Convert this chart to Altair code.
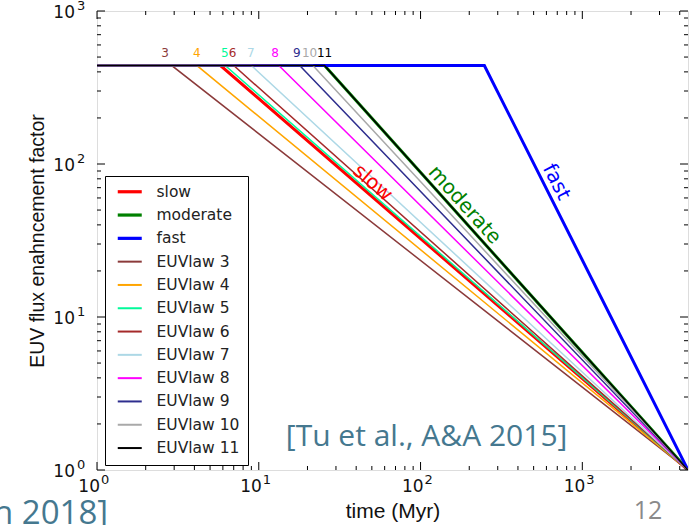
import altair as alt
import pandas as pd

# ---- data ----
series_names = ["slow", "moderate", "fast", "EUVlaw 3", "EUVlaw 4", "EUVlaw 5", "EUVlaw 6",
                "EUVlaw 7", "EUVlaw 8", "EUVlaw 9", "EUVlaw 10", "EUVlaw 11"]
series_colors = ["#ff0000", "#008000", "#0000ff", "#8b3a3a", "#ffa500", "#00fa9a", "#a52a2a",
                 "#add8e6", "#ff00ff", "#2e2e8e", "#a9a9a9", "#000000"]
break_times = [5.8, 25.5, 248, 2.9, 4.15, 6.2, 7.0, 9.0, 13.3, 17.9, 21.6, 25.5]  # Myr
saturation_level = 440
t_start = 1
t_end = 4500
end_level = 1

law_labels = ["3", "4", "5", "6", "7", "8", "9", "10", "11"]
law_label_times = [2.63, 4.14, 6.17, 6.88, 8.93, 12.6, 17.2, 20.6, 25.5]
law_label_level = 530

anno_text = ["slow", "moderate", "fast"]
anno_x = [50.6, 187, 692]
anno_y = [75.2, 54, 76.3]
anno_angle = [41, 48, 63]
anno_color = ["#ff0000", "#008000", "#0000ff"]

major_ticks = [1, 10, 100, 1000]
major_exps = ["0", "1", "2", "3"]
minor_mult = [2, 3, 4, 5, 6, 7, 8, 9]

W, H = 591, 459

# ---- tables ----
rows = []
for name, tb in zip(series_names, break_times):
    rows += [
        {"series": name, "t": t_start, "f": saturation_level, "i": 0},
        {"series": name, "t": tb, "f": saturation_level, "i": 1},
        {"series": name, "t": t_end, "f": end_level, "i": 2},
    ]
lines_df = pd.DataFrame(rows)
main_df = lines_df[lines_df.series.isin(series_names[:3])]
law_df = lines_df[~lines_df.series.isin(series_names[:3])]

lab_df = pd.DataFrame({"lab": law_labels, "t": law_label_times, "f": law_label_level,
                       "c": series_colors[3:]})
anno_df = pd.DataFrame({"txt": anno_text, "t": anno_x, "f": anno_y, "a": anno_angle, "c": anno_color})

tick_lab_df = pd.DataFrame({"v": major_ticks, "base": ["10"] * 4, "e": major_exps})
xt_major = pd.DataFrame({"v": major_ticks})
xt_minor = pd.DataFrame({"v": [m * d for d in major_ticks for m in minor_mult if m * d <= t_end]})
yt_major = pd.DataFrame({"v": major_ticks})
yt_minor = pd.DataFrame({"v": [m * d for d in major_ticks[:3] for m in minor_mult]})

xscale = alt.Scale(type="log", domain=[t_start, t_end])
yscale = alt.Scale(type="log", domain=[1, 1000])
color_scale = alt.Scale(domain=series_names, range=series_colors)

x_axis = alt.Axis(values=major_ticks, labels=False, title="time (Myr)", grid=False,
                  domain=False, ticks=False, titleFontSize=21, titleFontWeight="normal",
                  titlePadding=30, titleColor="#111")
y_axis = alt.Axis(values=major_ticks, labels=False, title="EUV flux enahncement factor",
                  grid=False, domain=False, ticks=False, titleFontSize=19.5,
                  titleFontWeight="normal", titlePadding=50, titleColor="#111")

legend = alt.Legend(title=None, orient="none", legendX=8, legendY=165, symbolType="stroke",
                    symbolSize=576, labelFontSize=15.5, labelColor="#222", rowPadding=6.3,
                    labelOffset=19, padding=8, symbolOffset=9, strokeColor="#000",
                    fillColor="#fff", labelFont="DejaVu Sans", values=series_names,
                    symbolStrokeWidth=alt.ExprRef(
                        "indexof(['slow','moderate','fast'], datum.value) >= 0 ? 3.2 : 2"))

enc_common = dict(
    x=alt.X("t:Q", scale=xscale, axis=x_axis),
    y=alt.Y("f:Q", scale=yscale, axis=y_axis),
    color=alt.Color("series:N", scale=color_scale, legend=legend),
    order="i:Q",
)

main_lines = alt.Chart(main_df).mark_line(clip=True, strokeWidth=3).encode(**enc_common)
law_lines = alt.Chart(law_df).mark_line(clip=True, strokeWidth=1.5).encode(**enc_common)

labels = alt.Chart(lab_df).mark_text(fontSize=12, font="DejaVu Sans").encode(
    x=alt.X("t:Q", scale=xscale), y=alt.Y("f:Q", scale=yscale),
    text="lab:N", color=alt.Color("c:N", scale=None))

annos = alt.Chart(anno_df).mark_text(fontSize=20, font="DejaVu Sans").encode(
    x=alt.X("t:Q", scale=xscale), y=alt.Y("f:Q", scale=yscale),
    text="txt:N", angle=alt.Angle("a:Q", scale=None), color=alt.Color("c:N", scale=None))

# tick labels in matplotlib style: "10" with raised exponent
xl_base = alt.Chart(tick_lab_df).mark_text(fontSize=17, font="DejaVu Sans", color="#111",
                                           align="right", baseline="alphabetic", dx=3).encode(
    x=alt.X("v:Q", scale=xscale), y=alt.value(H + 22), text="base:N")
xl_exp = alt.Chart(tick_lab_df).mark_text(fontSize=13, font="DejaVu Sans", color="#111",
                                          align="left", baseline="alphabetic", dx=4).encode(
    x=alt.X("v:Q", scale=xscale), y=alt.value(H + 14), text="e:N")
yl_base = alt.Chart(tick_lab_df).mark_text(fontSize=17, font="DejaVu Sans", color="#111",
                                           align="right", baseline="alphabetic", dy=7).encode(
    y=alt.Y("v:Q", scale=yscale), x=alt.value(-22), text="base:N")
yl_exp = alt.Chart(tick_lab_df).mark_text(fontSize=13, font="DejaVu Sans", color="#111",
                                          align="left", baseline="alphabetic", dy=-1).encode(
    y=alt.Y("v:Q", scale=yscale), x=alt.value(-20), text="e:N")


def xticks(df, size, top):
    y0 = 0 if top else H
    y1 = size if top else H - size
    return alt.Chart(df).mark_rule(color="#000", strokeWidth=1).encode(
        x=alt.X("v:Q", scale=xscale), y=alt.value(y0), y2=alt.value(y1))


def yticks(df, size, right):
    x0 = W if right else 0
    x1 = W - size if right else size
    return alt.Chart(df).mark_rule(color="#000", strokeWidth=1).encode(
        y=alt.Y("v:Q", scale=yscale), x=alt.value(x0), x2=alt.value(x1))


tick_layers = [
    xticks(xt_major, 8, False), xticks(xt_minor, 4, False),
    xticks(xt_major, 8, True), xticks(xt_minor, 4, True),
    yticks(yt_major, 8, False), yticks(yt_minor, 4, False),
    yticks(yt_major, 8, True), yticks(yt_minor, 4, True),
]

cite_df = pd.DataFrame({"txt": ["[Tu et al., A&A 2015]"], "t": [109], "f": [1.64]})
cite = alt.Chart(cite_df).mark_text(fontSize=30, font="Open Sans", color="#45788f").encode(
    x=alt.X("t:Q", scale=xscale), y=alt.Y("f:Q", scale=yscale), text="txt:N")

outside_df = pd.DataFrame({"txt": ["n 2018]"]})
outside = alt.Chart(outside_df).mark_text(fontSize=33, font="Open Sans", color="#45788f",
                                          align="left", baseline="middle").encode(
    x=alt.value(-104), y=alt.value(503), text="txt:N")
page_df = pd.DataFrame({"txt": ["12"]})
page = alt.Chart(page_df).mark_text(fontSize=25, font="Open Sans", color="#8a8a8a",
                                    align="center", baseline="middle").encode(
    x=alt.value(551), y=alt.value(500), text="txt:N")

chart = alt.layer(main_lines, law_lines, labels, annos, *tick_layers,
                  xl_base, xl_exp, yl_base, yl_exp, cite, outside, page).properties(
    width=W, height=H,
    padding={"left": 97, "top": 11, "right": 12, "bottom": 55},
    autosize=alt.AutoSizeParams(type="none"),
).configure_view(stroke="#000", strokeWidth=1.5).configure_axis(
    titleFont="DejaVu Sans"
).configure(background="white")

chart.save("out.html", embed_options={"renderer": "svg", "actions": False})
